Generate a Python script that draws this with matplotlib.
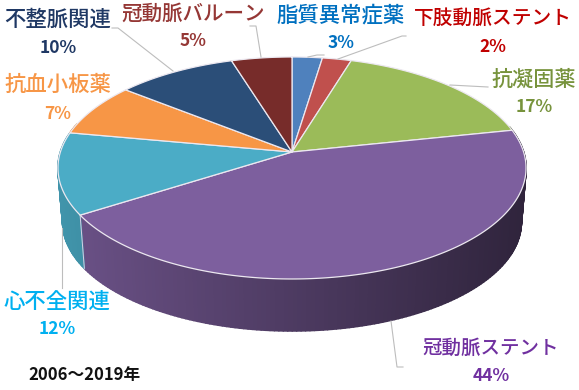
import numpy as np
import matplotlib
matplotlib.use("Agg")
import matplotlib.pyplot as plt
from matplotlib.collections import PolyCollection
from matplotlib.colors import to_rgb

plt.rcParams['font.family'] = ['Noto Sans CJK JP', 'DejaVu Sans']

categories = ['脂質異常症薬', '下肢動脈ステント', '抗凝固薬', '冠動脈ステント',
              '心不全関連', '抗血小板薬', '不整脈関連', '冠動脈バルーン']
shares = [2.4, 2.3, 17.0, 44.3, 11.9, 7.8, 9.5, 4.8]
percent_labels = ['3%', '2%', '17%', '44%', '12%', '7%', '10%', '5%']
slice_colors = ['#4f81bd', '#c0504d', '#9bbb59', '#7d5f9e', '#4bacc6', '#f79646', '#2b4e78', '#772c2a']
text_colors = ['#0070c0', '#c00000', '#77933c', '#7030a0', '#00b0f0', '#f79646', '#1f3864', '#953735']
name_sizes = [15.4, 14.2, 15.2, 14.0, 15.4, 15.4, 15.4, 14.8]
label_pos = [(341, 15, 43), (493, 18, 47), (534, 80, 107), (491, 348, 376),
             (57, 302, 329), (58, 85, 114), (58, 20, 48), (193, 14, 41)]
leaders = [[(308, 57), (317, 55), (324, 55)],
           [(338, 59), (402, 36), (406, 36)],
           [(450, 85), (488, 87)],
           [(391, 321), (397, 367), (403, 367)],
           [(62, 228), (62, 288)],
           [],
           [(173, 71), (118, 28), (112, 28)],
           [(261, 57), (256, 26), (250, 26)]]

cx, cy, a, b, k = 292.0, 152.0, 231.6, 108.7, 0.144
depth, shrink = 54.5, 0.98


def project(theta):
    u, v = np.sin(theta), np.cos(theta)
    w = 1 + k * v
    return cx + a * u / w, cy - b * v / w


def lower(x, y):
    return cx + shrink * (x - cx), cy + depth + shrink * (y - cy)


def wall_color(color, x):
    t = (x - 60) / (526 - 60)
    f = 0.86 - 0.48 * t
    return tuple(c * f for c in to_rgb(color))


fig = plt.figure(figsize=(5.79, 3.9), dpi=100)
ax = fig.add_axes([0, 0, 1, 1])
ax.set_xlim(0, 579)
ax.set_ylim(390, 0)
ax.axis('off')

edges = np.cumsum([0] + shares) / sum(shares) * 2 * np.pi

# side walls
polys, cols = [], []
for i, col in enumerate(slice_colors):
    ths = np.linspace(edges[i], edges[i + 1], max(int((edges[i + 1] - edges[i]) * 60), 2))
    x, y = project(ths)
    xl, yl = lower(x, y)
    for j in range(len(ths) - 1):
        if np.cos(ths[j]) < 0.25:
            polys.append([(x[j], y[j]), (x[j + 1], y[j + 1]), (xl[j + 1], yl[j + 1]), (xl[j], yl[j])])
            cols.append(wall_color(col, x[j]))
ax.add_collection(PolyCollection(polys, facecolors=cols, edgecolors=cols, linewidths=1.2, zorder=1))

# seam between cyan and purple walls
sx, sy = project(edges[4])
sxl, syl = lower(sx, sy)
ax.plot([sx, sxl], [sy, syl], color='#d8cfe6', lw=0.7, zorder=2)

# top face
for i, col in enumerate(slice_colors):
    ths = np.linspace(edges[i], edges[i + 1], 200)
    x, y = project(ths)
    ax.fill(np.r_[cx, x], np.r_[cy, y], facecolor=col, edgecolor='#ece8f0', lw=0.9,
            joinstyle='round', zorder=3)

# leader lines
for pts in leaders:
    if pts:
        ax.plot(*zip(*pts), color='#bdbdbd', lw=0.8, zorder=4)

# labels
for name, pct, col, size, (lx, y1, y2) in zip(categories, percent_labels, text_colors, name_sizes, label_pos):
    ax.text(lx, y1, name, color=col, fontsize=size, fontweight='medium', ha='center', va='center', zorder=5)
    ax.text(lx, y2, pct, color=col, fontsize=12.5, fontweight='bold', ha='center', va='center', zorder=5)

ax.text(84, 375, '2006～2019年', color='#111111', fontsize=12, fontweight='bold', ha='center', va='center')

fig.savefig('out.png', dpi=100)
